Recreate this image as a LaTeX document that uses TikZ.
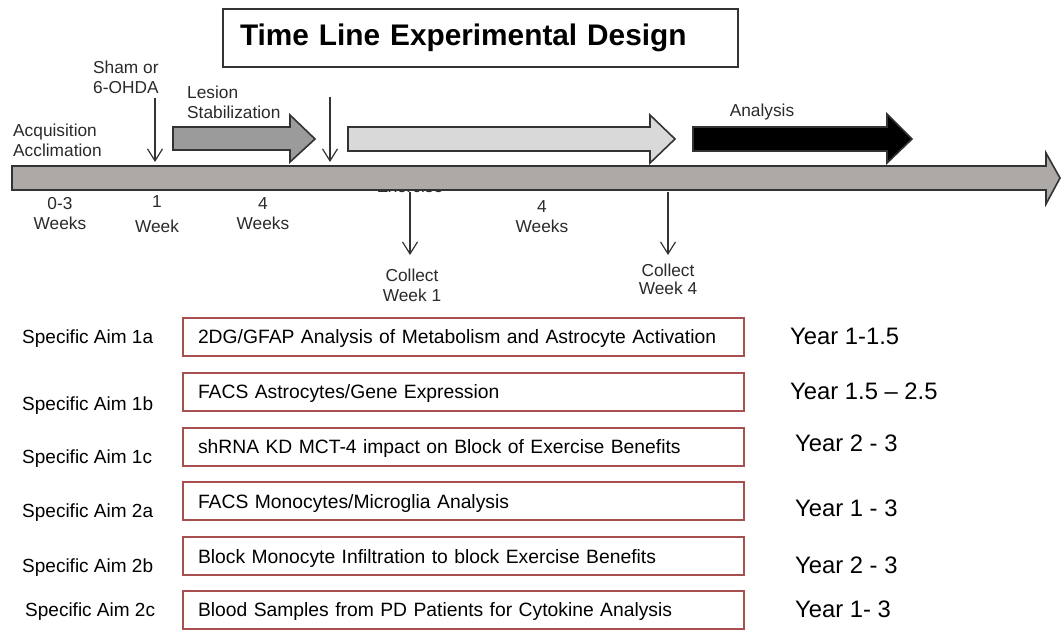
\documentclass[tikz,border=0pt]{standalone}
\usepackage{fontspec}
\setmainfont{Liberation Sans}
\usetikzlibrary{arrows.meta}
\definecolor{barfill}{HTML}{ADA9A7}
\definecolor{edge}{HTML}{333333}
\definecolor{lesionfill}{HTML}{9B9B9B}
\definecolor{exfill}{HTML}{D9D9D9}
\definecolor{aimred}{HTML}{A8504F}
\definecolor{labelgray}{HTML}{2A2A2A}
\begin{document}
\begin{tikzpicture}[x=1pt,y=-1pt,
  lbl/.style={font=\fontsize{17.3}{20}\selectfont, text=labelgray, inner sep=0pt, align=left},
  lblc/.style={lbl, align=center},
  blockarrow/.style={draw=edge, line width=1.6pt, line join=miter},
  pointer/.style={draw=edge, line width=1.2pt, -{Straight Barb[length=12pt,width=15pt,line width=1.2pt]}},
  aimlbl/.style={font=\fontsize{19}{22}\selectfont, anchor=west, inner sep=0pt, text depth=0pt},
  aimbox/.style={draw=aimred, line width=2pt, fill=white, anchor=west, inner ysep=0pt,
    inner xsep=15pt, text width=531pt, minimum height=38pt, align=left, text depth=0pt,
    font=\fontsize{19.3}{22}\selectfont},
  yearlbl/.style={font=\fontsize{23.8}{26}\selectfont, anchor=west, inner sep=0pt}]

\useasboundingbox (0,0) rectangle (1062,629);

% title
\node[draw=edge, line width=2pt, minimum width=515pt, minimum height=58pt,
      text width=481pt, inner xsep=17pt, align=left,
      font=\bfseries\fontsize{29.8}{32}\selectfont] (title) at (480.5,38)
      {Time Line Experimental Design};

% label partly hidden behind the time bar
\node[lbl, anchor=base] (exercise) at (410,192) {Exercise};

% main time bar
\draw[blockarrow, fill=barfill] (12,166) -- (1046,166) -- (1046,153) -- (1060,178)
  -- (1046,204) -- (1046,190) -- (12,190) -- cycle;

% phase arrows
\draw[blockarrow, fill=lesionfill] (173,127) -- (290,127) -- (290,115) -- (315,139)
  -- (290,162) -- (290,150) -- (173,150) -- cycle;
\draw[blockarrow, fill=exfill] (348,127) -- (650,127) -- (650,115) -- (675,139)
  -- (650,163) -- (650,151) -- (348,151) -- cycle;
\draw[blockarrow, fill=black] (693,127) -- (887,127) -- (887,114) -- (912,139)
  -- (887,163) -- (887,151) -- (693,151) -- cycle;

% labels above the bar
\node[lbl, anchor=west] (sham) at (93,77) {Sham or\\6-OHDA};
\node[lbl, anchor=west] (acq) at (13,140.5) {Acquisition\\Acclimation};
\node[lbl, anchor=west] (lesion) at (187,102) {Lesion\\Stabilization};
\node[lblc] (analysis) at (762,112) {Analysis};

% labels below the bar
\node[lblc] (w03) at (60,214) {0-3\\Weeks};
\node[lblc] (w1) at (157,214.5) {1\\[5pt]Week};
\node[lblc] (w4a) at (263,214) {4\\Weeks};
\node[lblc] (w4b) at (542,217) {4\\Weeks};
\node[lblc] (col1) at (412,285) {Collect\\Week 1};
\node[lblc, font=\fontsize{17.3}{18}\selectfont] (col4) at (668,279) {Collect\\Week 4};

% event pointers
\coordinate (shamtop) at (155,98);
\coordinate (shambar) at (155,162);
\coordinate (extop) at (330,97);
\coordinate (exbar) at (330,162);
\coordinate (c1bar) at (410,192);
\coordinate (c1end) at (410,255);
\coordinate (c4bar) at (668,192);
\coordinate (c4end) at (668,255);
\draw[pointer] (shamtop) -- (shambar);
\draw[pointer] (extop) -- (exbar);
\draw[pointer] (c1bar) -- (c1end);
\draw[pointer] (c4bar) -- (c4end);

% specific aims
\node[aimlbl] (a1a) at (22,337) {Specific Aim 1a};
\node[aimlbl] (a1b) at (22,404) {Specific Aim 1b};
\node[aimlbl] (a1c) at (22,457) {Specific Aim 1c};
\node[aimlbl] (a2a) at (22,511) {Specific Aim 2a};
\node[aimlbl] (a2b) at (22,566) {Specific Aim 2b};
\node[aimlbl] (a2c) at (25,610) {Specific Aim 2c};

\node[aimbox] (b1a) at (182,337) {2DG/GFAP Analysis of Metabolism and Astrocyte Activation};
\node[aimbox] (b1b) at (182,392) {FACS Astrocytes/Gene Expression};
\node[aimbox] (b1c) at (182,447) {shRNA KD MCT-4 impact on Block of Exercise Benefits};
\node[aimbox] (b2a) at (182,501) {FACS Monocytes/Microglia Analysis};
\node[aimbox] (b2b) at (182,556) {Block Monocyte Infiltration to block Exercise Benefits};
\node[aimbox] (b2c) at (182,609.5) {Blood Samples from PD Patients for Cytokine Analysis};

\node[yearlbl] (y1a) at (790,336) {Year 1-1.5};
\node[yearlbl] (y1b) at (790,391) {Year 1.5 – 2.5};
\node[yearlbl] (y1c) at (795,443) {Year 2 - 3};
\node[yearlbl] (y2a) at (795,508) {Year 1 - 3};
\node[yearlbl] (y2b) at (795,565) {Year 2 - 3};
\node[yearlbl] (y2c) at (795,609) {Year 1- 3};
\end{tikzpicture}
\end{document}
